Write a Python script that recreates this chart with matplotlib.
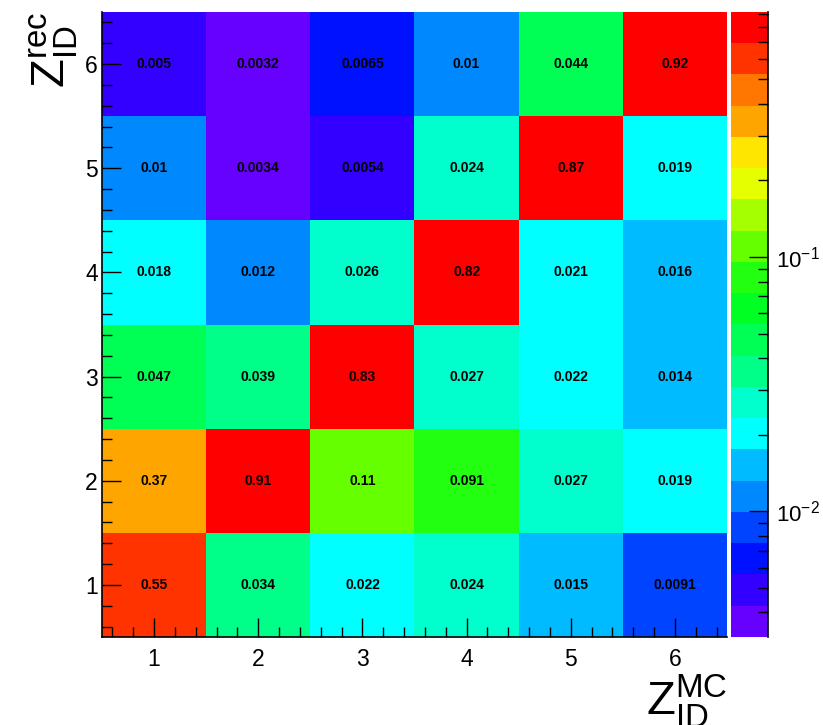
import numpy as np
import matplotlib
matplotlib.use("Agg")
import matplotlib.pyplot as plt
from matplotlib.colors import ListedColormap, BoundaryNorm
from matplotlib.ticker import LogLocator, FixedLocator

plt.rcParams["font.family"] = ["Liberation Sans", "DejaVu Sans"]
plt.rcParams["mathtext.fontset"] = "custom"
plt.rcParams["mathtext.rm"] = "Liberation Sans"
plt.rcParams["mathtext.it"] = "Liberation Sans:italic"
plt.rcParams["mathtext.bf"] = "Liberation Sans:bold"
plt.rcParams["axes.unicode_minus"] = False

# Z_ID bins (MC on x, rec on y)
z_mc = [1, 2, 3, 4, 5, 6]
z_rec = [1, 2, 3, 4, 5, 6]

# rows: Z_rec = 1 .. 6, columns: Z_MC = 1 .. 6
row_rec1 = [0.55, 0.034, 0.022, 0.024, 0.015, 0.0091]
row_rec2 = [0.37, 0.91, 0.11, 0.091, 0.027, 0.019]
row_rec3 = [0.047, 0.039, 0.83, 0.027, 0.022, 0.014]
row_rec4 = [0.018, 0.012, 0.026, 0.82, 0.021, 0.016]
row_rec5 = [0.01, 0.0034, 0.0054, 0.024, 0.87, 0.019]
row_rec6 = [0.005, 0.0032, 0.0065, 0.01, 0.044, 0.92]

z_min = 0.0032
z_max = 0.92

# ROOT-like palette, bottom -> top, 20 contour levels
palette = ["#6600FF", "#3300FF", "#0011FF", "#0044FF", "#0088FF",
           "#00BBFF", "#00FFFF", "#00FFCC", "#00FF88", "#00FF55",
           "#00FF22", "#22FF11", "#66FF00", "#A6FF00", "#E6FF00",
           "#FFE600", "#FFA500", "#FF7700", "#FF3300", "#FF0000"]

matrix = np.array([row_rec1, row_rec2, row_rec3, row_rec4, row_rec5, row_rec6])

cmap = ListedColormap(palette)
levels = np.geomspace(z_min, z_max, len(palette) + 1)
norm = BoundaryNorm(levels, cmap.N, clip=True)

fig = plt.figure(figsize=(8.23, 7.25), dpi=100)
ax = fig.add_axes([102 / 823, 88 / 725, 625 / 823, 625 / 725])
cax = fig.add_axes([731 / 823, 88 / 725, 37 / 823, 625 / 725])

x_edges = np.arange(len(z_mc) + 1) + 0.5
y_edges = np.arange(len(z_rec) + 1) + 0.5
mesh = ax.pcolormesh(x_edges, y_edges, matrix, cmap=cmap, norm=norm)

for i, yv in enumerate(z_rec):
    for j, xv in enumerate(z_mc):
        ax.text(xv, yv, f"{matrix[i, j]:.2g}", ha="center", va="center",
                fontsize=10, fontweight="bold", color="black")

ax.set_xlim(0.5, 6.5)
ax.set_ylim(0.5, 6.5)
ax.set_xticks(z_mc)
ax.set_yticks(z_rec)
ax.xaxis.set_minor_locator(FixedLocator(np.arange(0.6, 6.45, 0.2)))
ax.yaxis.set_minor_locator(FixedLocator(np.arange(0.6, 6.45, 0.2)))
ax.tick_params(which="both", direction="in", top=False, right=False, labelsize=16.5)
ax.tick_params(which="major", length=14, width=1.0)
ax.tick_params(which="minor", length=7, width=1.0)
ax.tick_params(axis="x", pad=8)
ax.tick_params(axis="y", pad=3)
for s in ["top", "right"]:
    ax.spines[s].set_visible(False)
for s in ["left", "bottom"]:
    ax.spines[s].set_linewidth(1.2)

ax.set_xlabel(r"$\mathrm{Z}_{\mathrm{ID}}^{\mathrm{MC}}$", fontsize=34, loc="right", labelpad=1)
ax.set_ylabel(r"$\mathrm{Z}_{\mathrm{ID}}^{\mathrm{rec}}$", fontsize=34, loc="top", labelpad=4)

cbar = fig.colorbar(mesh, cax=cax, boundaries=levels, spacing="proportional")
cbar.outline.set_visible(False)
cax.set_yscale("log")
cax.set_ylim(z_min, z_max)
cax.yaxis.set_major_locator(FixedLocator([0.01, 0.1]))
cax.yaxis.set_minor_locator(LogLocator(base=10, subs=np.arange(2, 10)))
cax.yaxis.set_minor_formatter(plt.NullFormatter())
cax.tick_params(which="both", direction="in", right=True, left=False, labelsize=16)
cax.tick_params(which="major", length=14, width=1.0, pad=6)
cax.tick_params(which="minor", length=7, width=1.0)
cax.spines["right"].set_visible(True)
cax.spines["right"].set_linewidth(1.2)

fig.savefig("out.png", dpi=100)
